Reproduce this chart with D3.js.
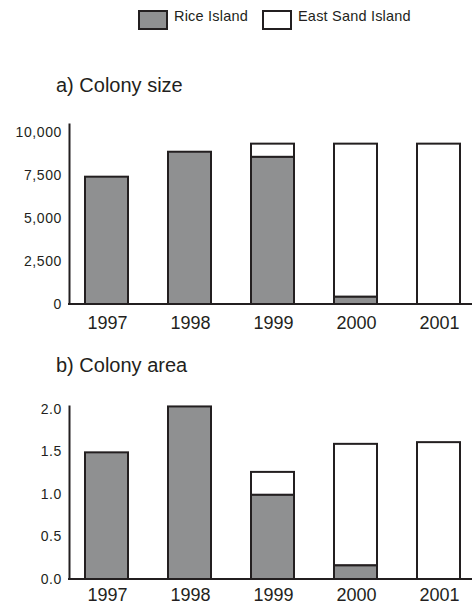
<!DOCTYPE html>
<html>
<head>
<meta charset="utf-8">
<script src="https://cdn.jsdelivr.net/npm/d3@7"></script>
<style>
  body { margin: 0; background: #fff; }
  text { font-family: "Liberation Sans", Arial, sans-serif; fill: #231f20; }
</style>
</head>
<body>
<div id="chart"></div>
<script>
// data
const years = ["1997", "1998", "1999", "2000", "2001"];
const sizeRice = [7400, 8850, 8550, 420, 0];
const sizeEast = [0, 0, 770, 8900, 9320];
const areaRice = [1.49, 2.03, 0.99, 0.16, 0];
const areaEast = [0, 0, 0.27, 1.43, 1.61];
const sizeTicks = [0, 2500, 5000, 7500, 10000];
const areaTicks = [0, 0.5, 1.0, 1.5, 2.0];
const seriesNames = ["Rice Island", "East Sand Island"];

const W = 472, H = 605;
const ink = "#231f20", grey = "#8f9091";

const svg = d3.select("#chart").append("svg").attr("width", W).attr("height", H);

// legend
const legend = svg.append("g");
[[139, seriesNames[0], grey], [263, seriesNames[1], "#fff"]].forEach(([x, name, fill]) => {
  legend.append("rect").attr("x", x).attr("y", 11).attr("width", 28).attr("height", 18)
    .attr("fill", fill).attr("stroke", ink).attr("stroke-width", 2);
  legend.append("text").attr("x", x + 35).attr("y", 20.5)
    .attr("font-size", 14.5).style("letter-spacing", "0.2px").text(name);
});

const x = d3.scaleBand().domain(years).range([65, 480])
  .paddingInner(40 / 83).paddingOuter(20 / 83);

function panel({ title, titleY, base, top, maxV, rice, east, ticks, fmt, labelY }) {
  const y = d3.scaleLinear().domain([0, maxV]).range([base, top]);
  const g = svg.append("g");

  g.append("text").attr("x", 56).attr("y", titleY).attr("font-size", 20).text(title);

  const rows = years.map((yr, i) => ({ yr, rice: rice[i], east: east[i] }));

  // east sand island (upper part)
  g.selectAll(".east").data(rows.filter(d => d.east > 0)).join("rect")
    .attr("x", d => x(d.yr)).attr("width", x.bandwidth())
    .attr("y", d => y(d.rice + d.east))
    .attr("height", d => y(d.rice) - y(d.rice + d.east))
    .attr("fill", "#fff").attr("stroke", ink).attr("stroke-width", 2);

  // rice island (lower part)
  g.selectAll(".rice").data(rows.filter(d => d.rice > 0)).join("rect")
    .attr("x", d => x(d.yr)).attr("width", x.bandwidth())
    .attr("y", d => y(d.rice))
    .attr("height", d => y(0) - y(d.rice))
    .attr("fill", grey).attr("stroke", ink).attr("stroke-width", 2);

  // y axis
  const ya = g.append("g").attr("transform", "translate(69,0)")
    .call(d3.axisLeft(y).tickValues(ticks).tickFormat(fmt).tickSize(0).tickPadding(7));
  ya.select(".domain").attr("stroke", ink).attr("stroke-width", 2);
  ya.selectAll("text").attr("font-size", 14).style("letter-spacing", "0.6px")
    .attr("font-family", null);

  // x axis
  g.append("line").attr("x1", 68).attr("x2", 472).attr("y1", base).attr("y2", base)
    .attr("stroke", ink).attr("stroke-width", 2);
  g.selectAll(".yr").data(years).join("text")
    .attr("x", d => x(d) + x.bandwidth() / 2 + 1).attr("y", labelY)
    .attr("text-anchor", "middle").attr("font-size", 18).text(d => d);
}

panel({
  title: "a) Colony size", titleY: 92, base: 304, top: 123, maxV: 10520,
  rice: sizeRice, east: sizeEast, ticks: sizeTicks, fmt: d3.format(","), labelY: 329
});
panel({
  title: "b) Colony area", titleY: 372, base: 579, top: 405, maxV: 2.047,
  rice: areaRice, east: areaEast, ticks: areaTicks, fmt: d3.format(".1f"), labelY: 601
});
</script>
</body>
</html>
